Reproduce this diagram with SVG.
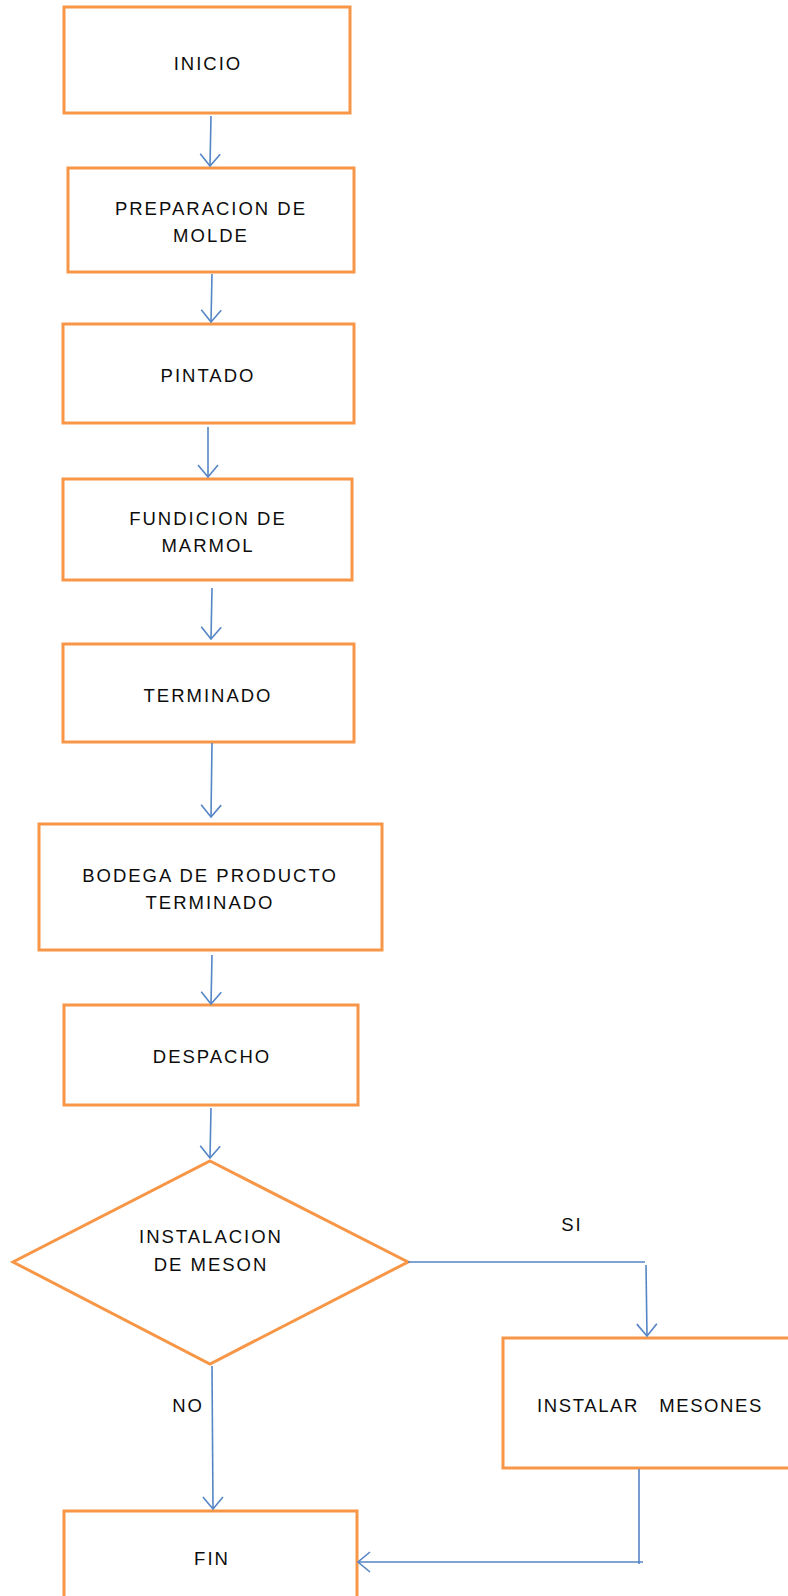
<svg xmlns="http://www.w3.org/2000/svg" width="788" height="1596" viewBox="0 0 788 1596">
  <style>
    .box { fill: #ffffff; stroke: #f79646; stroke-width: 3; }
    .lbl { font-family: "Liberation Sans", Arial, sans-serif; font-size: 18.5px; fill: #0d0d0d; text-anchor: middle; letter-spacing: 2px; }
    .edge { fill: none; stroke: #5585c5; stroke-width: 1.6; }
  </style>
  <defs>
    <marker id="arrow" markerUnits="userSpaceOnUse" markerWidth="30" markerHeight="30" viewBox="-15 -15 30 30" refX="0" refY="0" orient="auto">
      <path d="M-12,-10 L0,0 L-12,10" fill="none" stroke="#5585c5" stroke-width="1.6"/>
    </marker>
  </defs>
  <rect width="788" height="1596" fill="#ffffff"/>

  <!-- process steps -->
  <g id="inicio">
    <rect class="box" x="64" y="7" width="286" height="106"/>
    <text class="lbl" x="208" y="70">INICIO</text>
  </g>
  <g id="preparacion">
    <rect class="box" x="68" y="168" width="286" height="104"/>
    <text class="lbl" x="211" y="215">PREPARACION DE</text>
    <text class="lbl" x="211" y="242">MOLDE</text>
  </g>
  <g id="pintado">
    <rect class="box" x="63" y="324" width="291" height="99"/>
    <text class="lbl" x="208" y="382">PINTADO</text>
  </g>
  <g id="fundicion">
    <rect class="box" x="63" y="479" width="289" height="101"/>
    <text class="lbl" x="208" y="525">FUNDICION DE</text>
    <text class="lbl" x="208" y="552">MARMOL</text>
  </g>
  <g id="terminado">
    <rect class="box" x="63" y="644" width="291" height="98"/>
    <text class="lbl" x="208" y="702">TERMINADO</text>
  </g>
  <g id="bodega">
    <rect class="box" x="39" y="824" width="343" height="126"/>
    <text class="lbl" x="210" y="882">BODEGA DE PRODUCTO</text>
    <text class="lbl" x="210" y="909">TERMINADO</text>
  </g>
  <g id="despacho">
    <rect class="box" x="64" y="1005" width="294" height="100"/>
    <text class="lbl" x="212" y="1063">DESPACHO</text>
  </g>
  <g id="decision">
    <polygon class="box" points="210,1161 408,1262 210,1364 13,1262"/>
    <text class="lbl" x="211" y="1243">INSTALACION</text>
    <text class="lbl" x="211" y="1271">DE MESON</text>
  </g>
  <g id="instalar">
    <rect class="box" x="503" y="1338" width="300" height="130"/>
    <text class="lbl" x="650" y="1412" xml:space="preserve" style="letter-spacing:1.6px">INSTALAR   MESONES</text>
  </g>
  <g id="fin">
    <rect class="box" x="64" y="1511" width="293" height="100"/>
    <text class="lbl" x="212" y="1565">FIN</text>
  </g>

  <!-- connectors -->
  <g id="connectors">
    <line class="edge" x1="211" y1="116" x2="210" y2="166" marker-end="url(#arrow)"/>
    <line class="edge" x1="212" y1="274" x2="211" y2="322" marker-end="url(#arrow)"/>
    <line class="edge" x1="208" y1="427" x2="208" y2="477" marker-end="url(#arrow)"/>
    <line class="edge" x1="212" y1="588" x2="211" y2="639" marker-end="url(#arrow)"/>
    <line class="edge" x1="212" y1="743" x2="211" y2="817" marker-end="url(#arrow)"/>
    <line class="edge" x1="212" y1="955" x2="211" y2="1004" marker-end="url(#arrow)"/>
    <line class="edge" x1="211" y1="1108" x2="210" y2="1158" marker-end="url(#arrow)"/>
    <line class="edge" x1="212" y1="1366" x2="213" y2="1509" marker-end="url(#arrow)"/>
    <line class="edge" x1="408" y1="1262" x2="645" y2="1262"/>
    <line class="edge" x1="646" y1="1265" x2="647" y2="1336" marker-end="url(#arrow)"/>
    <line class="edge" x1="639" y1="1469" x2="639" y2="1564"/>
    <line class="edge" x1="643" y1="1562" x2="358" y2="1562" marker-end="url(#arrow)"/>
  </g>

  <!-- branch labels -->
  <g id="branch-labels">
    <text class="lbl" x="572" y="1231">SI</text>
    <text class="lbl" x="188" y="1412">NO</text>
  </g>
</svg>
